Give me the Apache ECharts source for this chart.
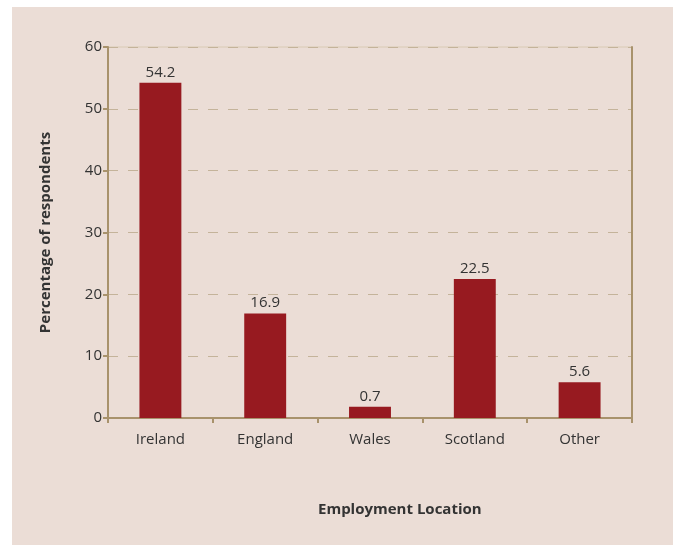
<!DOCTYPE html>
<html>
<head>
<meta charset="utf-8">
<script src="https://cdn.jsdelivr.net/npm/echarts@6/dist/echarts.min.js"></script>
<style>
  html, body { margin: 0; padding: 0; background: #fff; overflow: hidden; width: 673px; height: 545px; }
  #panel { position: absolute; left: 12px; top: 7px; width: 661px; height: 538px; background: #ebddd6; }
  #chart { width: 661px; height: 538px; }
</style>
</head>
<body>
<div id="panel"><div id="chart"></div></div>
<script>
const categories = ['Ireland', 'England', 'Wales', 'Scotland', 'Other']
// bar heights as drawn, and the printed labels above them
const barValues = [54.2, 16.9, 1.8, 22.5, 5.8]
const labelValues = ['54.2', '16.9', '0.7', '22.5', '5.6']

const axisColor = '#a8926c'
const textColor = '#333'
const font = 'Open Sans'

const chart = echarts.init(document.getElementById('chart'))
const option = {
  backgroundColor: '#ebddd6',
  animation: false,
  textStyle: { fontFamily: font },
  grid: {
    left: 96, right: 41, top: 40, bottom: 127,
    show: true, borderColor: '#d9cab4', borderWidth: 1, backgroundColor: 'transparent'
  },
  xAxis: {
    type: 'category',
    data: categories,
    axisLine: { lineStyle: { color: axisColor, width: 2 } },
    axisTick: { show: true, length: 5, lineStyle: { color: axisColor, width: 2 } },
    axisLabel: { color: textColor, fontSize: 15, margin: 14, fontFamily: font }
  },
  yAxis: [
    {
      type: 'value',
      min: 0, max: 60, interval: 10,
      name: 'Percentage of respondents',
      nameLocation: 'middle',
      nameGap: 55,
      nameTextStyle: { color: textColor, fontSize: 15, fontWeight: 'bold', fontFamily: font },
      axisLine: { show: true, lineStyle: { color: axisColor, width: 2 } },
      axisTick: { show: true, length: 5, lineStyle: { color: axisColor, width: 2 } },
      axisLabel: { color: textColor, fontSize: 15, margin: 6, fontFamily: font },
      splitLine: { lineStyle: { color: '#c4b39a', type: [10, 10], width: 1 } }
    },
    {
      type: 'value',
      min: 0, max: 60, interval: 10,
      position: 'right',
      axisLine: { show: true, lineStyle: { color: axisColor, width: 2 } },
      axisTick: { show: false },
      axisLabel: { show: false },
      splitLine: { show: false }
    }
  ],
  graphic: [
    {
      type: 'text',
      left: 306, top: 495,
      style: { text: 'Employment Location', fill: textColor, font: 'bold 15px "Open Sans"' }
    }
  ],
  series: [
    {
      type: 'bar',
      data: barValues,
      barWidth: '40%',
      itemStyle: { color: '#971a20' },
      label: {
        show: true,
        position: 'top',
        distance: 3,
        color: textColor,
        fontSize: 15,
        fontFamily: font,
        formatter: p => labelValues[p.dataIndex]
      }
    }
  ]
}
chart.setOption(option)
</script>
</body>
</html>
